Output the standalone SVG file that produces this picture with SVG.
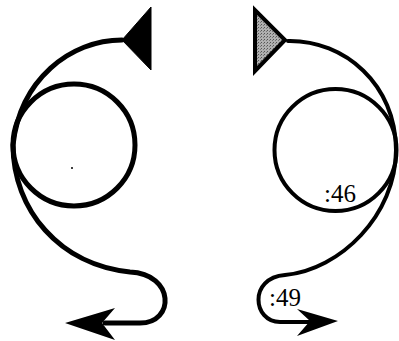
<svg xmlns="http://www.w3.org/2000/svg" width="399" height="341" viewBox="0 0 399 341">
<style>
.ln{fill:none;stroke:#000;stroke-linecap:round}
.l{stroke-width:5}
.r{stroke-width:4}
.lbl{font-family:"Liberation Serif","Times New Roman",serif;font-size:25px;fill:#000}
</style>
<defs>
<pattern id="stip" width="3" height="3" patternUnits="userSpaceOnUse">
<rect width="3" height="3" fill="#b0b0b0"/>
<rect x="0" y="0" width="1" height="1" fill="#555"/>
<rect x="2" y="1" width="1" height="1" fill="#777"/>
</pattern>
</defs>
<rect width="399" height="341" fill="#fff"/>
<g id="left-node">
<circle class="ln l" cx="74" cy="145" r="61"/>
<circle cx="72" cy="168" r="1" fill="#000"/>
<polygon points="151,7 151,70 122,40" fill="#000" stroke="#000" stroke-width="1"/>
</g>
<g id="right-node">
<circle class="ln r" cx="335.5" cy="150" r="61"/>
<polygon points="255,10 255,71 285,40" fill="url(#stip)" stroke="#000" stroke-width="4" stroke-linejoin="miter"/>
<text class="lbl" x="324" y="202">:46</text>
<text class="lbl" x="269" y="306">:49</text>
</g>
<g id="connectors">
<path class="ln l" d="M122,40 C70,40 20,80 13,145 C13,210 60,265 130,272 C175,274 175,323 140,323 L105,323"/>
<polygon points="65,323 115,308 102,323 115,340" fill="#000"/>
<path class="ln r" d="M288,41 C345,40 396,85 396,150 C396,215 340,270 285,275 C248,278 253,322 280,322 L312,322"/>
<polygon points="338,321 297,309 310,321 297,336" fill="#000"/>
</g>
</svg>
